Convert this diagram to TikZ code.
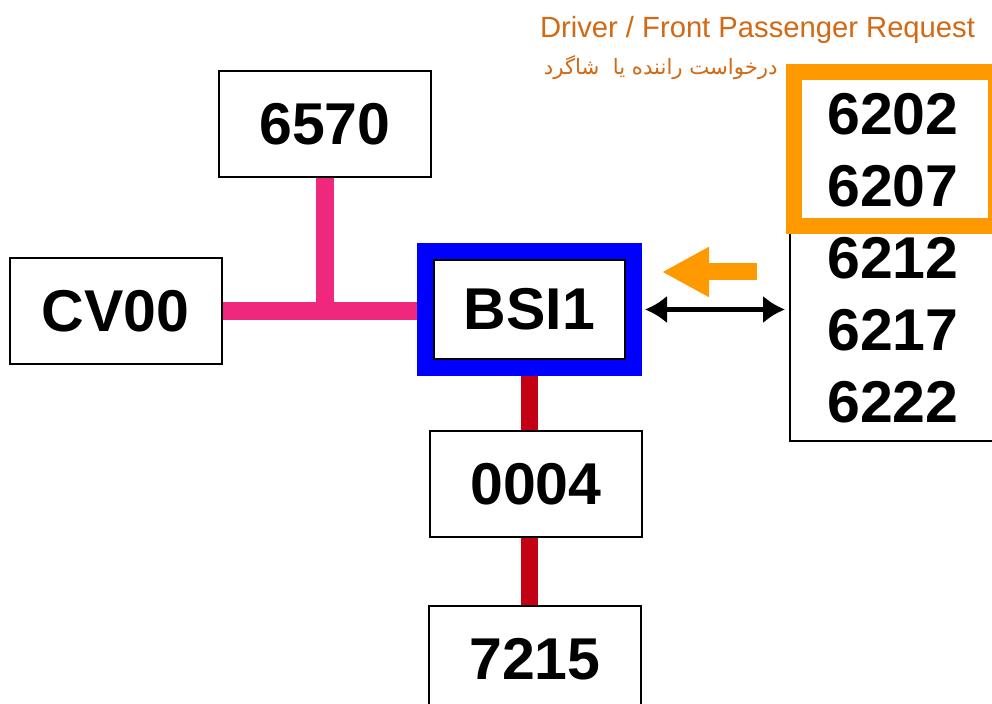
\documentclass[tikz,border=0pt]{standalone}
\usepackage{fontspec}
\setmainfont{Liberation Sans}
\newfontfamily\persianfont[Script=Arabic]{DejaVu Sans}
\TeXXeTstate=1
\usepackage{tikz}
\usetikzlibrary{arrows.meta, positioning}
\definecolor{canpink}{RGB}{240,40,125}
\definecolor{canred}{RGB}{195,0,20}
\definecolor{reqorange}{RGB}{255,153,0}
\definecolor{notetext}{RGB}{210,105,20}

\begin{document}
\begin{tikzpicture}[
  x=0.5pt, y=-0.5pt,
  every node/.style={font=\fontsize{29.5}{36}\selectfont\bfseries},
  ecu/.style={
    draw, line width=1pt, fill=white, inner sep=0pt,
    minimum width=106pt, minimum height=53pt
  },
  busbox/.style={ecu, draw=blue, line width=8pt, minimum width=104.5pt, minimum height=58.5pt},
  listbox/.style={ecu, align=center, minimum width=103pt, minimum height=182.5pt},
  reqbox/.style={draw=reqorange, line width=8pt, minimum width=101pt, minimum height=77pt},
  pinkbus/.style={canpink, line width=9pt},
  redbus/.style={canred, line width=8.5pt},
  link/.style={<->, >={Latex[length=11pt, width=14pt]}, line width=2.5pt, shorten <=1.5pt, shorten >=2pt},
  reqarrow/.style={-{Triangle[length=23.5pt, width=23.5pt]}, reqorange, line width=8.5pt},
  note/.style={font=\fontsize{14.6}{17}\selectfont, text=notetext, inner sep=0pt},
  notefa/.style={font=\persianfont\fontsize{10.6}{12}\selectfont, text=notetext, inner sep=0pt}
]

% --- Page ---
\useasboundingbox (0,0) rectangle (992,704);
\clip (0,0) rectangle (992,704);
\fill[white] (0,0) rectangle (992,704);

% --- Modules on the left ---
\node[ecu] (m6570) at (325,124) {6570};
\node[ecu] (cv00) at (115.5,311) {CV00};
\node[busbox] (bsi) at (529.5,309.5) {BSI1};
\draw[line width=1pt] ([shift={(8.5pt,-8.5pt)}]bsi.north west) rectangle ([shift={(-8.5pt,8.5pt)}]bsi.south east);
\node[ecu] (m0004) at (536,484) {0004};
\node[ecu] (m7215) at (535,659) {7215};

% --- Modules on the right ---
\node[listbox] (ecus) at (893,258.5) {6202\\6207\\6212\\6217\\6222};
\node[reqbox] (req) at (895,149) {};

% --- Bus lines ---
\draw[pinkbus] (cv00.east) -- (cv00.east -| bsi.west);
\draw[pinkbus] (m6570.south) -- (m6570.south |- cv00.east);
\draw[redbus] (bsi.south) -- (bsi.south |- m0004.north);
\draw[redbus] (m0004.south -| bsi.south) -- (bsi.south |- m7215.north);

% --- Diagnosis link and request ---
\draw[link] (bsi.east) -- (bsi.east -| ecus.west);
\coordinate (reqtail) at (757,272);
\coordinate (reqtip) at (662,272);
\draw[reqarrow] (reqtail) -- (reqtip);

% --- Annotations ---
\node[note, anchor=base] (reqen) at (757.5,38) {Driver / Front Passenger Request};
\node[notefa, anchor=east] (reqfa) at (778,68) {\beginR درخواست راننده یا\ \ شاگرد\endR};

\end{tikzpicture}
\end{document}
